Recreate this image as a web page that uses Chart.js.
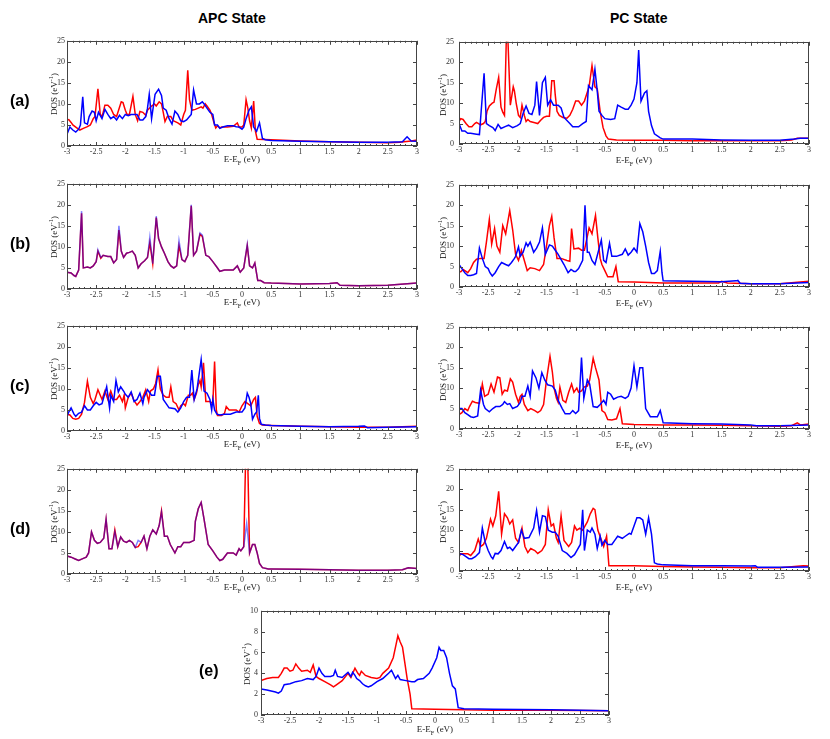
<!DOCTYPE html>
<html>
<head>
<meta charset="utf-8">
<script src="https://cdn.jsdelivr.net/npm/chart.js@4.4.1/dist/chart.umd.min.js"></script>
<style>
  body { margin: 0; background: #fff; }
  #page { position: relative; width: 830px; height: 739px; overflow: hidden; background: #fff; }
  #page canvas { position: absolute; }
  .head { position: absolute; font: bold 14px "Liberation Sans", Arial, sans-serif; color: #000; white-space: nowrap; }
  .tag { position: absolute; font: bold 16px "Liberation Sans", Arial, sans-serif; color: #000; line-height: 18px; }
  .xt, .yt { position: absolute; font: 9px "Liberation Serif", "Times New Roman", serif; color: #222; white-space: nowrap; }
  .yt { transform: translate(-50%, -50%) rotate(-90deg); }
  .xt { transform: translateX(-50%); }
  sub, sup { font-size: 70%; line-height: 0; }
</style>
</head>
<body>
<div id="page">
  <div class="head" style="left:198px; top:10px;">APC State</div>
  <div class="head" style="left:610px; top:10px;">PC State</div>
</div>
<script>
// energy (eV) vs DOS (1/eV), [E, DOS] pairs
const apcA_red = [[-3,6.2],[-2.97,6.3],[-2.93,5.6],[-2.9,5.0],[-2.85,4.5],[-2.78,3.8],[-2.72,4.2],[-2.65,4.6],[-2.6,5.0],[-2.55,6.5],[-2.52,7.0],[-2.47,13.6],[-2.43,7.5],[-2.4,7.0],[-2.38,8.0],[-2.35,9.7],[-2.3,9.7],[-2.25,9.0],[-2.2,7.5],[-2.15,7.0],[-2.07,10.5],[-2.04,10.3],[-2.0,8.5],[-1.97,7.5],[-1.93,7.5],[-1.87,11.8],[-1.83,7.5],[-1.79,6.0],[-1.75,8.2],[-1.7,8.0],[-1.65,7.3],[-1.62,8.5],[-1.55,9.5],[-1.5,10.0],[-1.47,9.5],[-1.42,10.5],[-1.38,10.0],[-1.35,8.0],[-1.32,5.8],[-1.28,7.0],[-1.22,7.0],[-1.18,6.0],[-1.1,5.5],[-1.05,5.0],[-1.0,7.5],[-0.97,8.5],[-0.93,18.0],[-0.9,11.0],[-0.86,8.5],[-0.8,8.7],[-0.75,9.0],[-0.7,9.3],[-0.67,9.0],[-0.63,10.0],[-0.6,9.5],[-0.55,8.5],[-0.52,7.5],[-0.48,5.5],[-0.45,4.3],[-0.42,4.8],[-0.38,4.3],[-0.35,4.5],[-0.25,4.5],[-0.15,4.7],[-0.08,5.5],[-0.05,4.5],[0.0,4.5],[0.03,5.0],[0.07,11.0],[0.1,9.0],[0.13,6.0],[0.16,4.3],[0.2,10.7],[0.23,3.5],[0.26,1.6],[0.5,1.5],[1.0,1.2],[1.5,1.0],[2.0,0.9],[2.5,0.8],[2.7,0.9],[2.9,1.2],[3.0,1.4]];
const apcA_blue = [[-3,2.8],[-2.95,4.5],[-2.9,3.8],[-2.85,3.3],[-2.8,4.0],[-2.77,5.0],[-2.73,11.7],[-2.7,5.5],[-2.65,5.2],[-2.62,7.0],[-2.57,8.3],[-2.53,8.0],[-2.5,6.0],[-2.46,8.0],[-2.4,6.5],[-2.35,8.7],[-2.3,7.5],[-2.25,6.5],[-2.2,7.0],[-2.15,6.2],[-2.1,7.3],[-2.05,6.5],[-2.0,7.5],[-1.95,7.2],[-1.9,7.5],[-1.8,7.5],[-1.75,6.2],[-1.7,6.2],[-1.65,7.0],[-1.62,9.0],[-1.59,12.3],[-1.55,6.5],[-1.49,12.3],[-1.43,13.5],[-1.38,12.0],[-1.35,9.0],[-1.3,8.5],[-1.25,6.5],[-1.2,5.2],[-1.15,8.3],[-1.1,7.5],[-1.05,6.0],[-1.0,5.8],[-0.95,6.2],[-0.9,7.0],[-0.87,7.5],[-0.83,13.3],[-0.78,10.0],[-0.73,10.0],[-0.68,10.5],[-0.65,10.0],[-0.6,9.0],[-0.55,8.0],[-0.5,7.5],[-0.47,5.0],[-0.42,5.0],[-0.38,4.2],[-0.33,4.5],[-0.25,4.8],[-0.15,4.8],[-0.1,4.6],[-0.05,4.5],[0.0,4.0],[0.03,4.5],[0.07,6.5],[0.12,8.5],[0.16,9.3],[0.2,4.5],[0.25,3.5],[0.3,5.5],[0.35,1.8],[0.4,1.5],[0.5,1.3],[1.0,1.1],[1.5,1.0],[2.0,0.9],[2.5,0.9],[2.75,1.0],[2.83,2.2],[2.9,1.2],[3.0,1.1]];
const pcA_red = [[-3,5.5],[-2.97,6.2],[-2.93,6.0],[-2.88,5.0],[-2.83,4.2],[-2.78,4.2],[-2.73,5.0],[-2.7,5.3],[-2.63,4.7],[-2.58,5.0],[-2.55,5.5],[-2.52,8.0],[-2.48,9.3],[-2.43,10.0],[-2.4,10.2],[-2.36,13.5],[-2.32,16.3],[-2.28,9.0],[-2.25,7.8],[-2.22,7.0],[-2.19,25],[-2.16,25],[-2.12,9.5],[-2.07,14.0],[-2.05,13.0],[-2.02,10.0],[-1.98,7.0],[-1.95,6.5],[-1.92,9.5],[-1.88,7.0],[-1.85,5.5],[-1.82,6.0],[-1.78,5.5],[-1.7,5.2],[-1.65,5.0],[-1.6,5.8],[-1.55,6.5],[-1.5,6.8],[-1.45,6.8],[-1.41,15.5],[-1.37,15.5],[-1.35,12.0],[-1.32,8.0],[-1.28,7.0],[-1.22,6.5],[-1.15,6.3],[-1.1,7.0],[-1.05,8.5],[-1.0,10.5],[-0.95,10.5],[-0.9,9.5],[-0.85,10.5],[-0.77,14.0],[-0.72,19.2],[-0.67,14.0],[-0.63,13.5],[-0.58,8.0],[-0.53,4.0],[-0.48,2.0],[-0.44,1.2],[-0.3,1.0],[0.0,0.9],[0.5,0.9],[1.0,0.8],[2.0,0.8],[2.5,0.8],[2.7,1.0],[2.8,1.4],[3.0,1.4]];
const pcA_blue = [[-3,5.0],[-2.95,3.2],[-2.9,3.2],[-2.85,2.6],[-2.8,2.6],[-2.7,2.4],[-2.65,2.3],[-2.62,8.0],[-2.57,17.3],[-2.53,5.0],[-2.48,4.5],[-2.42,4.0],[-2.38,3.3],[-2.33,4.8],[-2.28,3.8],[-2.2,4.3],[-2.15,4.6],[-2.08,4.0],[-2.0,4.5],[-1.95,5.0],[-1.9,7.5],[-1.85,9.3],[-1.8,7.5],[-1.75,7.2],[-1.7,9.5],[-1.67,15.3],[-1.62,7.0],[-1.57,15.0],[-1.52,16.3],[-1.48,9.5],[-1.43,10.8],[-1.38,9.5],[-1.3,9.5],[-1.25,8.8],[-1.2,6.5],[-1.1,5.0],[-1.05,4.2],[-0.95,4.2],[-0.88,5.0],[-0.82,5.5],[-0.78,14.3],[-0.72,13.3],[-0.67,18.3],[-0.63,13.0],[-0.6,8.0],[-0.55,7.0],[-0.5,6.2],[-0.4,6.0],[-0.33,6.2],[-0.28,9.5],[-0.22,9.0],[-0.15,8.5],[-0.1,8.5],[-0.05,9.5],[0.0,11.0],[0.05,15.0],[0.08,23.0],[0.12,10.5],[0.18,12.5],[0.22,13.0],[0.25,8.0],[0.3,4.5],[0.35,2.5],[0.45,1.5],[0.5,1.2],[1.0,1.2],[1.5,1.0],[2.0,0.9],[2.5,0.9],[2.75,1.2],[2.85,1.4],[3.0,1.4]];

const apcB_red = [[-3,4.0],[-2.93,3.8],[-2.88,3.2],[-2.85,3.0],[-2.8,4.5],[-2.75,18.0],[-2.72,5.0],[-2.65,5.2],[-2.6,5.0],[-2.55,5.5],[-2.5,6.5],[-2.47,9.0],[-2.42,7.3],[-2.38,8.0],[-2.3,7.7],[-2.25,7.7],[-2.2,6.2],[-2.15,7.0],[-2.11,14.0],[-2.07,9.0],[-2.03,7.5],[-1.98,8.5],[-1.93,8.7],[-1.88,9.0],[-1.83,8.0],[-1.78,5.0],[-1.73,6.0],[-1.67,6.7],[-1.62,7.5],[-1.58,11.0],[-1.53,6.0],[-1.47,17.0],[-1.43,12.0],[-1.38,10.0],[-1.33,8.5],[-1.27,6.5],[-1.22,5.5],[-1.17,5.0],[-1.12,5.5],[-1.08,10.3],[-1.03,7.0],[-0.98,6.5],[-0.93,8.0],[-0.87,19.8],[-0.83,8.0],[-0.78,9.0],[-0.72,13.0],[-0.68,12.5],[-0.62,8.0],[-0.57,7.7],[-0.5,6.5],[-0.42,5.0],[-0.38,4.2],[-0.3,4.5],[-0.15,4.5],[-0.08,5.5],[-0.03,4.0],[0.03,5.0],[0.09,10.3],[0.13,5.5],[0.18,5.0],[0.22,6.2],[0.27,2.0],[0.32,2.0],[0.38,1.5],[0.5,1.4],[1.0,1.2],[1.5,1.3],[1.63,1.5],[1.68,0.9],[2.0,0.8],[2.5,0.9],[3.0,1.4]];
const apcB_blue = [[-3,4.0],[-2.93,3.8],[-2.88,3.2],[-2.85,3.0],[-2.8,4.5],[-2.75,18.5],[-2.72,5.0],[-2.65,5.2],[-2.6,5.0],[-2.55,5.5],[-2.5,6.5],[-2.47,9.3],[-2.42,7.5],[-2.38,8.0],[-2.3,7.7],[-2.25,7.7],[-2.2,6.2],[-2.15,7.0],[-2.11,15.0],[-2.07,9.0],[-2.03,7.5],[-1.98,8.5],[-1.93,8.7],[-1.88,9.0],[-1.83,8.0],[-1.78,5.0],[-1.73,6.0],[-1.67,6.7],[-1.62,7.5],[-1.58,12.3],[-1.53,6.0],[-1.47,17.3],[-1.43,12.0],[-1.38,10.0],[-1.33,8.5],[-1.27,6.5],[-1.22,5.5],[-1.17,5.0],[-1.12,5.5],[-1.08,11.5],[-1.03,7.0],[-0.98,6.5],[-0.93,8.0],[-0.87,20.0],[-0.83,8.0],[-0.78,9.0],[-0.72,13.3],[-0.68,12.8],[-0.62,8.0],[-0.57,7.7],[-0.5,6.5],[-0.42,5.0],[-0.38,4.2],[-0.3,4.5],[-0.15,4.5],[-0.08,5.5],[-0.03,4.0],[0.03,5.0],[0.09,10.6],[0.13,5.5],[0.18,5.0],[0.22,6.2],[0.27,2.0],[0.32,2.0],[0.38,1.5],[0.5,1.4],[1.0,1.2],[1.5,1.3],[1.63,1.5],[1.68,0.9],[2.0,0.8],[2.5,0.9],[3.0,1.4]];
const pcB_red = [[-3,3.7],[-2.97,3.7],[-2.93,4.3],[-2.88,3.8],[-2.85,3.5],[-2.8,4.5],[-2.75,6.0],[-2.7,6.8],[-2.63,7.0],[-2.57,7.0],[-2.53,11.0],[-2.48,16.5],[-2.44,10.5],[-2.39,14.3],[-2.35,10.0],[-2.3,8.5],[-2.25,15.0],[-2.2,13.0],[-2.13,18.7],[-2.08,14.0],[-2.03,8.0],[-1.98,6.5],[-1.93,9.0],[-1.88,6.5],[-1.83,4.0],[-1.78,4.7],[-1.7,4.5],[-1.62,4.0],[-1.55,5.5],[-1.5,10.0],[-1.45,15.0],[-1.41,17.3],[-1.37,12.0],[-1.32,7.0],[-1.25,7.0],[-1.15,6.5],[-1.1,6.3],[-1.07,14.3],[-1.03,9.3],[-0.95,9.5],[-0.9,9.0],[-0.85,9.0],[-0.77,14.5],[-0.72,13.0],[-0.66,17.5],[-0.62,12.0],[-0.58,7.0],[-0.55,5.5],[-0.5,4.0],[-0.45,2.5],[-0.36,2.5],[-0.31,5.0],[-0.27,1.3],[0.0,1.2],[0.5,1.0],[1.0,1.0],[1.45,1.0],[1.5,1.4],[1.6,1.0],[2.0,0.8],[2.5,0.8],[3.0,1.4]];
const pcB_blue = [[-3,5.5],[-2.95,4.5],[-2.9,3.5],[-2.85,2.8],[-2.8,2.8],[-2.75,3.0],[-2.7,3.3],[-2.65,9.5],[-2.6,7.0],[-2.55,5.0],[-2.5,4.5],[-2.47,3.5],[-2.43,2.7],[-2.38,3.5],[-2.32,5.0],[-2.27,6.0],[-2.2,5.5],[-2.15,5.2],[-2.1,6.0],[-2.05,7.0],[-2.03,7.5],[-1.98,9.8],[-1.95,7.5],[-1.9,8.5],[-1.85,10.8],[-1.82,10.0],[-1.78,11.0],[-1.72,8.5],[-1.67,9.5],[-1.62,11.0],[-1.57,14.5],[-1.52,8.0],[-1.45,10.3],[-1.4,10.0],[-1.35,9.0],[-1.3,8.0],[-1.2,5.5],[-1.13,3.5],[-1.08,4.3],[-1.03,3.8],[-1.0,3.8],[-0.95,4.5],[-0.88,6.5],[-0.84,20.0],[-0.8,8.5],[-0.77,8.5],[-0.72,6.5],[-0.67,5.5],[-0.56,11.5],[-0.52,6.5],[-0.48,6.0],[-0.42,10.7],[-0.38,7.5],[-0.3,7.5],[-0.2,8.0],[-0.15,9.3],[-0.1,7.8],[-0.05,8.5],[0.0,9.5],[0.05,8.5],[0.1,15.5],[0.15,13.5],[0.2,10.0],[0.25,6.0],[0.3,3.3],[0.35,3.3],[0.4,4.0],[0.45,8.7],[0.48,3.5],[0.5,1.5],[1.0,1.4],[1.5,1.3],[1.75,1.5],[1.78,1.6],[1.82,0.9],[2.0,0.8],[2.5,0.8],[3.0,1.1]];

const apcC_red = [[-3,4.0],[-2.95,3.8],[-2.9,3.0],[-2.85,2.8],[-2.8,3.0],[-2.75,4.0],[-2.7,6.8],[-2.65,11.8],[-2.6,8.0],[-2.55,6.5],[-2.52,7.5],[-2.47,9.8],[-2.43,8.5],[-2.4,7.5],[-2.35,9.5],[-2.3,7.5],[-2.25,9.5],[-2.2,7.5],[-2.15,7.5],[-2.1,8.5],[-2.05,7.0],[-2.02,8.5],[-2.0,5.5],[-1.95,8.0],[-1.9,9.0],[-1.85,7.2],[-1.8,6.2],[-1.75,7.0],[-1.7,8.0],[-1.65,9.8],[-1.6,7.0],[-1.57,9.5],[-1.52,10.0],[-1.48,11.3],[-1.44,14.5],[-1.4,10.0],[-1.35,8.5],[-1.3,8.0],[-1.25,8.0],[-1.22,10.5],[-1.18,7.0],[-1.13,6.5],[-1.08,5.0],[-1.05,6.0],[-1.0,6.5],[-0.97,6.0],[-0.92,8.5],[-0.88,8.5],[-0.85,9.0],[-0.82,7.5],[-0.78,9.0],[-0.75,11.0],[-0.72,12.0],[-0.7,10.5],[-0.66,16.2],[-0.62,7.0],[-0.55,7.0],[-0.5,6.5],[-0.47,16.5],[-0.44,5.0],[-0.42,3.7],[-0.35,3.7],[-0.3,4.2],[-0.27,5.8],[-0.22,5.0],[-0.1,5.0],[-0.05,4.5],[0.0,6.0],[0.05,7.0],[0.1,6.5],[0.15,6.0],[0.2,7.5],[0.23,8.0],[0.26,3.5],[0.3,1.8],[0.35,1.4],[0.5,1.3],[1.0,1.1],[1.5,1.0],[2.0,0.9],[2.5,0.9],[3.0,1.1]];
const apcC_blue = [[-3,3.5],[-2.97,4.5],[-2.93,5.5],[-2.88,4.0],[-2.85,3.5],[-2.8,4.2],[-2.75,4.5],[-2.7,6.0],[-2.65,5.0],[-2.6,5.0],[-2.55,6.0],[-2.5,6.8],[-2.45,6.2],[-2.4,6.5],[-2.35,9.0],[-2.32,10.5],[-2.27,5.5],[-2.25,8.5],[-2.2,7.0],[-2.16,12.0],[-2.12,9.3],[-2.08,10.5],[-2.03,9.5],[-2.0,8.7],[-1.95,8.0],[-1.9,9.3],[-1.85,7.0],[-1.8,7.5],[-1.75,9.0],[-1.7,6.5],[-1.68,8.0],[-1.62,9.8],[-1.55,8.5],[-1.5,8.5],[-1.45,13.0],[-1.4,13.0],[-1.35,7.5],[-1.3,6.5],[-1.25,5.5],[-1.15,5.3],[-1.1,4.5],[-1.05,5.5],[-1.0,7.0],[-0.95,8.0],[-0.9,8.0],[-0.86,14.5],[-0.82,7.5],[-0.77,10.0],[-0.7,17.0],[-0.65,9.5],[-0.6,9.0],[-0.55,7.5],[-0.52,5.0],[-0.5,7.5],[-0.47,5.0],[-0.43,4.0],[-0.38,3.8],[-0.3,4.0],[-0.2,4.0],[-0.1,4.5],[-0.05,4.5],[0.0,4.5],[0.05,5.5],[0.09,9.0],[0.12,8.0],[0.15,6.5],[0.18,2.8],[0.22,4.0],[0.25,4.5],[0.28,8.5],[0.3,3.0],[0.33,1.6],[0.4,1.4],[0.5,1.3],[1.0,1.1],[1.5,1.0],[2.0,1.1],[2.1,1.2],[2.15,0.8],[2.5,0.9],[3.0,1.0]];
const pcC_red = [[-3,3.5],[-2.95,4.0],[-2.9,5.0],[-2.85,4.5],[-2.82,5.5],[-2.77,6.8],[-2.72,6.5],[-2.65,6.3],[-2.6,11.0],[-2.56,8.0],[-2.5,8.5],[-2.45,11.0],[-2.4,9.0],[-2.34,12.7],[-2.3,12.5],[-2.26,8.5],[-2.22,9.5],[-2.17,9.3],[-2.12,12.3],[-2.08,11.5],[-2.03,8.5],[-1.98,6.5],[-1.95,8.0],[-1.92,8.5],[-1.88,6.0],[-1.82,4.5],[-1.77,5.0],[-1.7,4.5],[-1.65,4.0],[-1.6,4.5],[-1.55,6.0],[-1.5,12.0],[-1.44,17.8],[-1.4,14.0],[-1.37,10.0],[-1.33,7.5],[-1.3,6.5],[-1.27,10.2],[-1.22,7.0],[-1.17,6.5],[-1.12,9.0],[-1.07,11.0],[-1.03,9.0],[-0.98,10.0],[-0.95,9.0],[-0.9,9.3],[-0.85,10.3],[-0.8,10.5],[-0.76,12.0],[-0.7,17.3],[-0.66,15.0],[-0.6,12.0],[-0.55,4.5],[-0.5,4.0],[-0.45,2.3],[-0.38,2.2],[-0.3,2.5],[-0.24,5.0],[-0.2,1.3],[0.0,1.1],[0.5,1.0],[1.0,1.0],[1.5,0.9],[2.0,0.8],[2.5,0.7],[2.7,0.8],[2.8,1.5],[2.85,1.0],[3.0,1.2]];
const pcC_blue = [[-3,5.0],[-2.95,5.0],[-2.9,4.0],[-2.85,3.5],[-2.8,3.0],[-2.75,2.8],[-2.68,3.2],[-2.63,9.5],[-2.58,6.0],[-2.55,5.0],[-2.48,4.2],[-2.42,5.0],[-2.37,5.5],[-2.3,5.5],[-2.25,6.0],[-2.22,6.7],[-2.17,6.0],[-2.13,6.2],[-2.08,5.0],[-2.0,5.5],[-1.95,6.5],[-1.92,8.0],[-1.87,8.0],[-1.82,10.5],[-1.78,8.0],[-1.74,14.2],[-1.68,12.5],[-1.63,10.0],[-1.58,13.8],[-1.53,12.0],[-1.48,10.8],[-1.4,10.5],[-1.35,9.5],[-1.3,7.0],[-1.23,5.0],[-1.18,3.7],[-1.1,3.7],[-1.05,4.5],[-1.0,3.8],[-0.95,4.5],[-0.9,17.5],[-0.86,7.5],[-0.8,12.0],[-0.76,11.0],[-0.7,5.5],[-0.63,5.3],[-0.58,6.0],[-0.52,7.0],[-0.48,6.0],[-0.45,9.0],[-0.4,8.5],[-0.35,7.3],[-0.28,7.8],[-0.22,8.0],[-0.15,7.5],[-0.1,8.0],[-0.05,10.0],[0.0,15.5],[0.05,10.3],[0.1,15.0],[0.15,15.0],[0.2,5.0],[0.28,3.0],[0.35,3.0],[0.4,3.0],[0.45,4.5],[0.5,1.5],[1.0,1.3],[1.5,1.2],[2.0,1.0],[2.1,0.8],[2.5,0.8],[3.0,1.0]];

const apcD_red = [[-3,4.3],[-2.93,4.0],[-2.85,3.5],[-2.8,3.2],[-2.72,3.7],[-2.67,4.0],[-2.63,5.0],[-2.58,10.0],[-2.53,8.0],[-2.48,7.3],[-2.43,7.5],[-2.37,8.5],[-2.33,13.0],[-2.28,6.0],[-2.23,6.0],[-2.18,10.5],[-2.13,6.5],[-2.08,8.8],[-2.03,7.8],[-1.98,7.5],[-1.93,8.0],[-1.88,7.5],[-1.83,6.3],[-1.78,6.5],[-1.73,7.5],[-1.68,9.0],[-1.63,6.0],[-1.58,9.0],[-1.53,10.5],[-1.47,9.5],[-1.42,11.5],[-1.38,15.0],[-1.33,9.0],[-1.28,9.0],[-1.23,7.0],[-1.15,5.0],[-1.1,6.5],[-1.05,6.5],[-1.0,7.5],[-0.9,7.5],[-0.82,8.0],[-0.8,12.5],[-0.75,15.5],[-0.7,17.0],[-0.65,13.0],[-0.58,7.0],[-0.5,5.5],[-0.43,4.0],[-0.38,3.2],[-0.33,3.5],[-0.25,5.0],[-0.15,5.0],[-0.1,4.5],[-0.05,6.0],[-0.02,5.5],[0.03,6.5],[0.06,26],[0.1,26],[0.13,5.0],[0.18,7.0],[0.22,7.0],[0.26,5.0],[0.3,2.5],[0.35,1.5],[0.45,1.2],[0.5,1.2],[1.0,1.1],[1.5,1.0],[2.0,0.9],[2.5,0.9],[2.75,1.0],[2.85,1.5],[3.0,1.3]];
const apcD_blue = [[-3,4.3],[-2.93,4.0],[-2.85,3.5],[-2.8,3.2],[-2.72,3.7],[-2.67,4.0],[-2.63,5.0],[-2.58,10.0],[-2.53,8.0],[-2.48,7.3],[-2.43,7.5],[-2.37,8.5],[-2.33,13.0],[-2.28,6.0],[-2.23,6.0],[-2.18,10.0],[-2.13,6.5],[-2.08,8.8],[-2.03,7.8],[-1.98,7.5],[-1.93,8.0],[-1.88,7.5],[-1.83,6.3],[-1.78,8.0],[-1.73,7.5],[-1.68,9.0],[-1.63,6.0],[-1.58,9.0],[-1.53,10.5],[-1.47,9.5],[-1.42,11.5],[-1.38,14.7],[-1.33,9.0],[-1.28,9.0],[-1.23,7.0],[-1.15,5.0],[-1.1,6.5],[-1.05,6.5],[-1.0,7.5],[-0.9,7.5],[-0.82,8.0],[-0.8,12.5],[-0.75,15.5],[-0.7,17.0],[-0.65,13.0],[-0.58,7.0],[-0.5,5.5],[-0.43,4.0],[-0.38,3.2],[-0.33,3.5],[-0.25,5.0],[-0.15,5.0],[-0.1,4.5],[-0.05,6.0],[-0.02,5.5],[0.03,6.5],[0.08,12.0],[0.13,5.0],[0.18,7.0],[0.22,7.0],[0.26,5.0],[0.3,2.5],[0.35,1.5],[0.45,1.2],[0.5,1.2],[1.0,1.1],[1.5,1.0],[2.0,0.9],[2.5,0.9],[2.75,1.0],[2.85,1.5],[3.0,1.3]];
const pcD_red = [[-3,3.5],[-2.97,4.2],[-2.9,4.2],[-2.85,4.2],[-2.8,3.8],[-2.73,5.0],[-2.67,7.8],[-2.63,6.0],[-2.58,6.5],[-2.53,8.0],[-2.5,10.0],[-2.46,12.7],[-2.42,11.0],[-2.37,13.5],[-2.32,19.5],[-2.27,9.0],[-2.22,14.0],[-2.17,13.0],[-2.13,11.5],[-2.08,12.5],[-2.03,8.0],[-1.98,7.0],[-1.92,10.5],[-1.87,6.0],[-1.82,4.5],[-1.77,5.5],[-1.7,5.0],[-1.65,4.3],[-1.58,5.0],[-1.52,6.5],[-1.47,15.0],[-1.42,11.0],[-1.38,11.5],[-1.33,8.0],[-1.3,7.0],[-1.25,13.5],[-1.2,7.5],[-1.12,6.0],[-1.07,7.0],[-1.02,11.0],[-0.98,10.0],[-0.93,10.5],[-0.88,10.0],[-0.8,12.0],[-0.75,14.0],[-0.7,15.3],[-0.67,15.0],[-0.62,10.0],[-0.57,8.0],[-0.52,6.0],[-0.47,8.5],[-0.45,5.0],[-0.43,1.3],[0.0,1.3],[0.5,1.1],[1.0,1.0],[1.5,0.9],[2.0,0.8],[2.5,0.8],[2.9,1.3],[3.0,1.2]];
const pcD_blue = [[-3,4.3],[-2.93,4.0],[-2.88,3.5],[-2.83,3.0],[-2.78,3.0],[-2.72,3.5],[-2.65,4.5],[-2.6,10.5],[-2.55,7.0],[-2.5,5.0],[-2.45,3.5],[-2.42,3.0],[-2.38,4.3],[-2.33,4.2],[-2.28,5.0],[-2.22,7.2],[-2.17,5.5],[-2.13,5.8],[-2.08,5.0],[-2.03,6.0],[-1.98,7.0],[-1.93,10.0],[-1.88,8.0],[-1.8,8.2],[-1.72,10.5],[-1.67,14.8],[-1.62,9.5],[-1.57,13.5],[-1.52,13.3],[-1.47,10.0],[-1.4,9.5],[-1.35,9.5],[-1.3,8.5],[-1.23,5.0],[-1.15,4.3],[-1.08,3.3],[-1.02,4.0],[-0.98,5.0],[-0.92,6.5],[-0.88,15.0],[-0.85,5.0],[-0.8,10.0],[-0.75,9.5],[-0.72,10.5],[-0.67,9.0],[-0.63,5.5],[-0.58,8.5],[-0.55,6.3],[-0.5,7.5],[-0.45,6.5],[-0.38,6.5],[-0.33,7.5],[-0.28,8.5],[-0.2,8.0],[-0.15,8.5],[-0.08,9.2],[-0.05,9.0],[0.0,11.0],[0.05,13.0],[0.1,13.0],[0.15,12.5],[0.2,9.0],[0.25,13.0],[0.3,9.0],[0.35,2.0],[0.4,1.7],[0.5,1.5],[1.0,1.3],[1.5,1.3],[2.0,1.2],[2.08,1.3],[2.12,0.9],[2.5,0.9],[3.0,1.0]];

const e_red = [[-3,3.3],[-2.9,3.5],[-2.8,3.6],[-2.7,3.6],[-2.65,4.0],[-2.6,4.5],[-2.55,4.5],[-2.5,4.2],[-2.45,4.3],[-2.4,4.9],[-2.35,4.5],[-2.3,4.2],[-2.2,4.3],[-2.15,4.1],[-2.1,4.8],[-2.05,3.7],[-2.0,3.5],[-1.9,3.2],[-1.8,2.9],[-1.75,2.7],[-1.7,2.9],[-1.6,3.3],[-1.5,4.0],[-1.45,3.6],[-1.38,4.5],[-1.33,4.0],[-1.3,3.8],[-1.27,4.2],[-1.2,3.8],[-1.1,3.6],[-1.0,3.5],[-0.95,3.6],[-0.9,4.0],[-0.8,4.5],[-0.72,5.5],[-0.67,6.8],[-0.64,7.6],[-0.6,7.0],[-0.56,6.5],[-0.52,5.0],[-0.48,3.5],[-0.43,2.0],[-0.4,0.6],[0.0,0.55],[0.5,0.5],[1.0,0.45],[2.0,0.45],[3.0,0.4]];
const e_blue = [[-3,2.5],[-2.9,2.4],[-2.75,2.2],[-2.7,2.1],[-2.65,2.3],[-2.6,2.9],[-2.5,3.0],[-2.4,3.2],[-2.3,3.3],[-2.2,3.5],[-2.1,3.4],[-2.05,3.7],[-2.0,4.5],[-1.95,4.0],[-1.9,3.7],[-1.8,3.7],[-1.75,3.8],[-1.72,4.3],[-1.68,3.7],[-1.6,3.6],[-1.5,4.1],[-1.45,3.7],[-1.42,4.1],[-1.38,3.8],[-1.35,3.5],[-1.3,3.3],[-1.25,3.0],[-1.2,2.8],[-1.15,2.7],[-1.1,2.8],[-1.0,3.2],[-0.9,3.5],[-0.8,4.0],[-0.75,4.3],[-0.68,3.5],[-0.64,3.8],[-0.6,3.4],[-0.5,3.3],[-0.4,3.2],[-0.35,3.2],[-0.3,3.4],[-0.2,3.5],[-0.1,4.0],[-0.05,4.5],[0.03,5.5],[0.07,6.5],[0.1,6.2],[0.15,6.2],[0.2,5.5],[0.25,4.0],[0.3,2.8],[0.35,2.5],[0.4,0.7],[0.5,0.6],[1.0,0.55],[2.0,0.5],[3.0,0.4]];

const xTicks = [-3, 3, 0.5];     // min, max, step
const yTicksMain = [0, 25, 5];
const yTicksE = [0, 10, 2];

// plot boxes on the page
const panels = [
  { tag: '(a)', left: 67,  top: 41,  w: 350, h: 106, red: apcA_red, blue: apcA_blue, yt: yTicksMain, yPad: 2, titleGap: 13 },
  { tag: null,  left: 459, top: 42,  w: 350, h: 106, red: pcA_red,  blue: pcA_blue,  yt: yTicksMain, yPad: 5, titleGap: 16 },
  { tag: '(b)', left: 67,  top: 184, w: 350, h: 106, red: apcB_red, blue: apcB_blue, yt: yTicksMain, yPad: 2, titleGap: 13, mixed: true },
  { tag: null,  left: 459, top: 185, w: 350, h: 106, red: pcB_red,  blue: pcB_blue,  yt: yTicksMain, yPad: 5, titleGap: 16 },
  { tag: '(c)', left: 67,  top: 326, w: 350, h: 106, red: apcC_red, blue: apcC_blue, yt: yTicksMain, yPad: 2, titleGap: 13 },
  { tag: null,  left: 459, top: 327, w: 350, h: 106, red: pcC_red,  blue: pcC_blue,  yt: yTicksMain, yPad: 5, titleGap: 16 },
  { tag: '(d)', left: 67,  top: 469, w: 350, h: 106, red: apcD_red, blue: apcD_blue, yt: yTicksMain, yPad: 2, titleGap: 13, mixed: true },
  { tag: null,  left: 459, top: 469, w: 350, h: 106, red: pcD_red,  blue: pcD_blue,  yt: yTicksMain, yPad: 5, titleGap: 16 },
  { tag: '(e)', left: 261, top: 611, w: 348, h: 106, red: e_red,    blue: e_blue,    yt: yTicksE,    yPad: 3, titleGap: 14, tagX: 199 }
];

// grace-style frame with inward ticks on all four sides
const frameTicks = {
  id: 'frameTicks',
  afterDatasetsDraw(chart) {
    const { ctx, chartArea: a, scales: { x, y } } = chart;
    ctx.save();
    ctx.strokeStyle = '#444';
    ctx.lineWidth = 1;
    ctx.strokeRect(Math.round(a.left) + 0.5, Math.round(a.top) + 0.5, Math.round(a.width) - 1, Math.round(a.height) - 1);
    ctx.beginPath();
    const n = Math.round((xTicks[1] - xTicks[0]) / 0.1);
    for (let i = 0; i <= n; i++) {
      const px = Math.round(x.getPixelForValue(xTicks[0] + i * 0.1)) + 0.5;
      const len = i % 5 === 0 ? 4 : 2;
      ctx.moveTo(px, a.bottom); ctx.lineTo(px, a.bottom - len);
      ctx.moveTo(px, a.top); ctx.lineTo(px, a.top + len);
    }
    y.ticks.forEach(t => {
      const py = Math.round(y.getPixelForValue(t.value)) + 0.5;
      ctx.moveTo(a.left, py); ctx.lineTo(a.left + 4, py);
      ctx.moveTo(a.right, py); ctx.lineTo(a.right - 4, py);
    });
    ctx.stroke();
    ctx.restore();
  }
};

const page = document.getElementById('page');
const tickFont = { family: '"Liberation Serif", "Times New Roman", serif', size: 8 };
const padL = 30, padT = 6, padR = 10, padB = 14;

function series(pairs, color, width) {
  return {
    data: pairs.map(p => ({ x: p[0], y: p[1] })),
    borderColor: color,
    borderWidth: width,
    pointRadius: 0,
    tension: 0,
    fill: false,
    clip: 0
  };
}

panels.forEach(p => {
  const cv = document.createElement('canvas');
  cv.width = p.w + padL + padR;
  cv.height = p.h + padT + padB;
  cv.style.left = (p.left - padL) + 'px';
  cv.style.top = (p.top - padT) + 'px';
  page.appendChild(cv);

  const blueColor = p.mixed ? 'rgba(0,0,255,0.5)' : '#0000ff';
  const chart = new Chart(cv, {
    type: 'line',
    data: { datasets: [series(p.blue, blueColor, 1.5), series(p.red, '#ff0000', 1.5)] },
    options: {
      responsive: false,
      animation: false,
      events: [],
      layout: { padding: { top: padT, right: padR, left: 0, bottom: 0 } },
      plugins: { legend: { display: false }, tooltip: { enabled: false } },
      scales: {
        x: {
          type: 'linear', min: xTicks[0], max: xTicks[1],
          grid: { display: false, drawTicks: false },
          border: { display: false },
          ticks: { stepSize: xTicks[2], autoSkip: false, maxRotation: 0, padding: 1, color: '#333', font: tickFont,
                   callback: v => String(+v.toFixed(1)) },
          afterFit: s => { s.height = padB; }
        },
        y: {
          type: 'linear', min: p.yt[0], max: p.yt[1],
          grid: { display: false, drawTicks: false },
          border: { display: false },
          ticks: { stepSize: p.yt[2], autoSkip: false, padding: p.yPad, color: '#333', font: tickFont,
                   callback: v => String(v) },
          afterFit: s => { s.width = padL; }
        }
      }
    },
    plugins: [frameTicks]
  });

  // line the chart area up with the target box
  const ca = chart.chartArea;
  cv.style.left = (p.left - ca.left) + 'px';
  cv.style.top = (p.top - ca.top) + 'px';

  const xt = document.createElement('div');
  xt.className = 'xt';
  xt.style.left = (p.left + p.w / 2) + 'px';
  xt.style.top = (p.top + p.h + 7) + 'px';
  xt.innerHTML = 'E-E<sub>F</sub> (eV)';
  page.appendChild(xt);

  const yt = document.createElement('div');
  yt.className = 'yt';
  yt.style.left = (p.left - p.titleGap) + 'px';
  yt.style.top = (p.top + p.h / 2) + 'px';
  yt.innerHTML = 'DOS (eV<sup>-1</sup>)';
  page.appendChild(yt);

  if (p.tag) {
    const tg = document.createElement('div');
    tg.className = 'tag';
    tg.textContent = p.tag;
    tg.style.left = (p.tagX || 10) + 'px';
    tg.style.top = (p.top + p.h / 2 - 2) + 'px';
    page.appendChild(tg);
  }
});
</script>
</body>
</html>
